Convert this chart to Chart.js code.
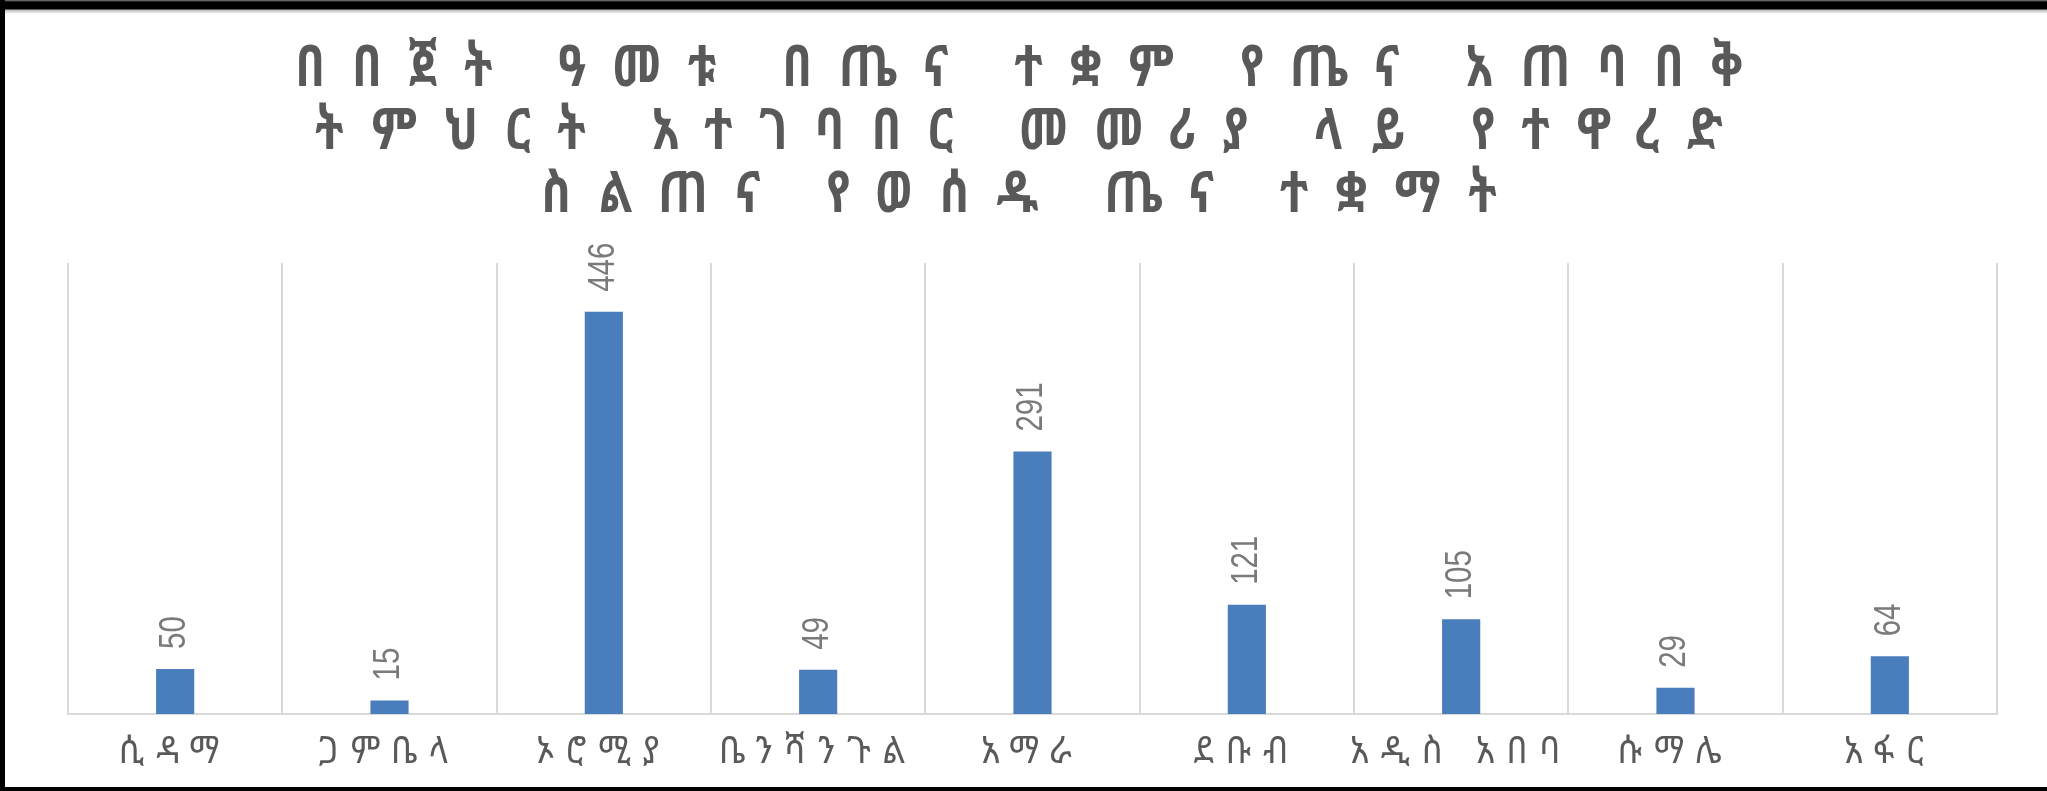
<!DOCTYPE html>
<html>
<head>
<meta charset="utf-8">
<script src="https://cdn.jsdelivr.net/npm/chart.js@4/dist/chart.umd.min.js"></script>
<style>
  html, body { margin: 0; padding: 0; background: #ffffff; }
  #wrap { position: relative; width: 2047px; height: 791px; overflow: hidden; background: #fff; }
  #c { position: absolute; left: 0; top: 0; }
  .bd { position: absolute; background: #000; }
</style>
</head>
<body>
<div id="wrap">
  <canvas id="c" width="2047" height="791"></canvas>
  <div style="position:absolute;left:0;top:0;width:2047px;height:14px;background:linear-gradient(#888 0px,#000 2px,#000 9px,#bbb 10px,#fff 14px);"></div>
  <div class="bd" style="left:0;top:0;width:5px;height:791px;"></div>
  <div class="bd" style="left:0;top:787px;width:2047px;height:4px;"></div>
</div>
<script>
const titleLines = [
  "በበጀት ዓመቱ በጤና ተቋም የጤና አጠባበቅ",
  "ትምህርት አተገባበር መመሪያ ላይ የተዋረድ",
  "ስልጠና የወሰዱ ጤና ተቋማት"
];
const categories = ["ሲዳማ", "ጋምቤላ", "ኦሮሚያ", "ቤንሻንጉል", "አማራ", "ደቡብ", "አዲስ አበባ", "ሱማሌ", "አፋር"];
const values = [50, 15, 446, 49, 291, 121, 105, 29, 64];
const yMin = 0;
const yMax = 500;

const ETH_FONT = "'Noto Sans Ethiopic', 'Abyssinica SIL', 'Noto Serif Ethiopic', 'DejaVu Sans', 'Noto Sans', sans-serif";

function styledText(ctx, spacing, sy, fn) {
  const prev = ctx.letterSpacing;
  const proto = Object.getPrototypeOf(ctx).fillText;
  ctx.letterSpacing = spacing;
  ctx.fillText = function (t, x, y, mw) {
    this.save();
    this.translate(x, y);
    this.scale(1, sy);
    if (mw === undefined) proto.call(this, t, 0, 0);
    else proto.call(this, t, 0, 0, mw);
    this.restore();
  };
  try { fn(); } finally {
    delete ctx.fillText;
    ctx.letterSpacing = prev;
  }
}

const spacingPlugin = {
  id: 'spacing',
  beforeDraw(chart) {
    const ctx = chart.ctx;
    const tb = chart.titleBlock;
    if (tb && !tb.__wrapped) {
      const orig = tb.draw.bind(tb);
      tb.draw = function (a) { styledText(ctx, '27px', 1.25, () => orig(a)); };
      tb.__wrapped = true;
    }
    const xs = chart.scales.x;
    if (xs && !xs.__wrapped) {
      const origL = xs.drawLabels.bind(xs);
      xs.drawLabels = function (a) { styledText(ctx, '12px', 1.1, () => origL(a)); };
      xs.__wrapped = true;
    }
  }
};

const valueLabels = {
  id: 'valueLabels',
  afterDatasetsDraw(chart) {
    const ctx = chart.ctx;
    const meta = chart.getDatasetMeta(0);
    const data = chart.data.datasets[0].data;
    ctx.save();
    ctx.font = "30px 'Liberation Sans', Arial, sans-serif";
    ctx.fillStyle = '#7a7a7a';
    ctx.textAlign = 'left';
    ctx.textBaseline = 'middle';
    meta.data.forEach((bar, i) => {
      ctx.save();
      ctx.translate(bar.x, bar.y - 20);
      ctx.rotate(-Math.PI / 2);
      ctx.scale(0.98, 1.2);
      ctx.fillText(String(data[i]), 0, 0);
      ctx.restore();
    });
    ctx.restore();
  }
};

new Chart(document.getElementById('c'), {
  type: 'bar',
  data: {
    labels: categories,
    datasets: [{
      data: values,
      backgroundColor: '#4a7dbb',
      borderWidth: 0,
      categoryPercentage: 1.0,
      barPercentage: 0.178
    }]
  },
  options: {
    responsive: false,
    animation: false,
    events: [],
    layout: { padding: { left: 68, right: 50, top: 38, bottom: 0 } },
    plugins: {
      legend: { display: false },
      tooltip: { enabled: false },
      title: {
        display: true,
        text: titleLines,
        color: '#595959',
        font: { family: ETH_FONT, size: 46, weight: 'bold', lineHeight: 1.37 },
        padding: { top: 0, bottom: 36 }
      }
    },
    scales: {
      x: {
        afterFit(scale) { scale.height = 77; },
        grid: { display: true, offset: true, color: '#d9d9d9', lineWidth: 2, drawTicks: false },
        border: { display: true, color: '#d9d9d9', width: 2 },
        ticks: {
          color: '#595959',
          font: { family: ETH_FONT, size: 34, lineHeight: 1.2 },
          padding: 18,
          maxRotation: 0,
          minRotation: 0,
          autoSkip: false
        }
      },
      y: {
        display: false,
        min: yMin,
        max: yMax
      }
    }
  },
  plugins: [spacingPlugin, valueLabels]
});
</script>
</body>
</html>
